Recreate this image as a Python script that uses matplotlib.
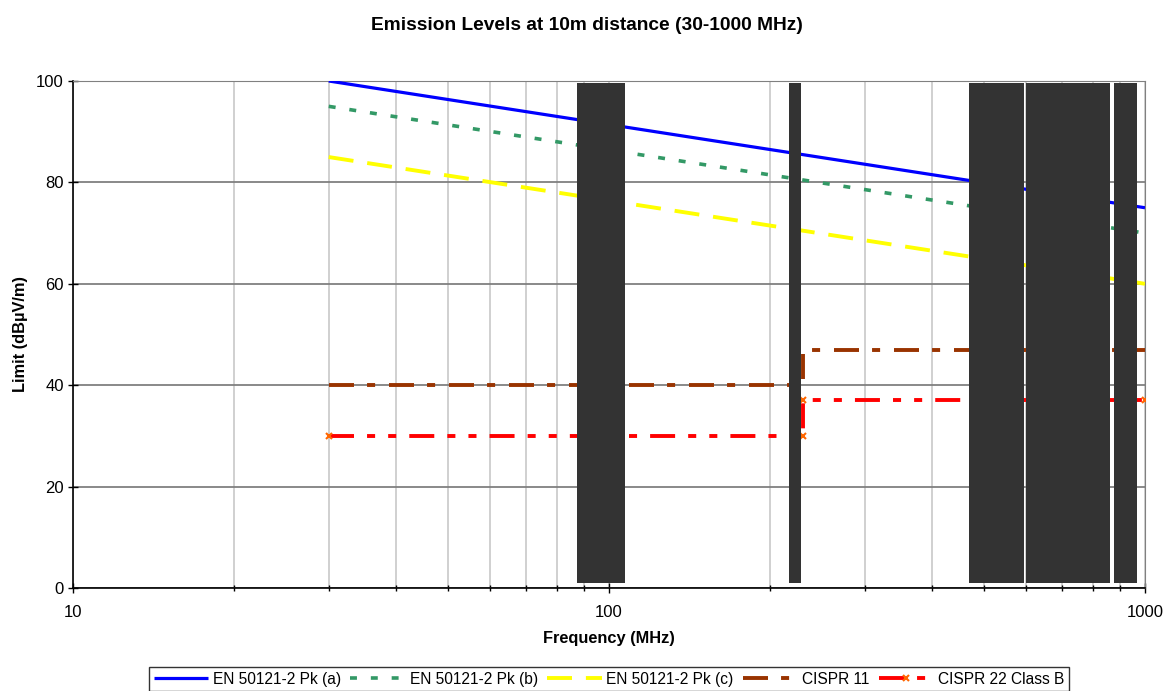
import matplotlib
matplotlib.use("Agg")
import matplotlib.pyplot as plt
import numpy as np

plt.rcParams['font.family'] = ['Liberation Sans', 'DejaVu Sans']
plt.rcParams['lines.scale_dashes'] = False

# ---- data ----
en_freq = [30, 1000]
en_a = [100, 75]
en_b = [95, 70]
en_c = [85, 60]

cispr11_freq = [30, 230, 230, 1000]
cispr11_lvl = [40, 40, 47, 47]

cispr22_freq = [30, 230, 230, 1000]
cispr22_lvl = [30, 30, 37, 37]

band_start = [87, 217, 470, 600, 875]
band_end = [107, 228, 595, 860, 965]
band_low = 1
band_high = 99.6

labels = ["EN 50121-2 Pk (a)", "EN 50121-2 Pk (b)", "EN 50121-2 Pk (c)",
          "CISPR 11", "CISPR 22 Class B"]

fig = plt.figure(figsize=(11.68, 6.91), dpi=100)
ax = fig.add_axes([73/1168, 1-588/691, (1145-73)/1168, (588-81)/691])

l1, = ax.plot(en_freq, en_a, color='#0000FF', lw=2.3, solid_capstyle='butt', label=labels[0], zorder=3)
l2, = ax.plot(en_freq, en_b, color='#339966', lw=2.6, dashes=(5, 10), label=labels[1], zorder=3)
l3, = ax.plot(en_freq, en_c, color='#FFFF00', lw=2.8, dashes=(18, 10), label=labels[2], zorder=3)
l4, = ax.plot(cispr11_freq, cispr11_lvl, color='#993300', lw=2.8,
              dashes=(18, 9.4, 5.8, 10), label=labels[3], zorder=3)
l5, = ax.plot(cispr22_freq, cispr22_lvl, color='#FF0000', lw=2.8,
              dashes=(18, 9.4, 5.8, 9.4, 5.8, 9.4), marker='x', ms=5, mew=1.5,
              mec='#FF6600', label=labels[4], zorder=3)

for s, e in zip(band_start, band_end):
    ax.fill_between([s, e], band_low, band_high, color='#333333', lw=0, zorder=4)

ax.set_xscale('log')
ax.set_xlim(10, 1000)
ax.set_ylim(0, 100)
ax.set_yticks([0, 20, 40, 60, 80, 100])
ax.xaxis.set_major_formatter(matplotlib.ticker.FuncFormatter(lambda v, p: f"{v:g}"))
ax.xaxis.set_minor_formatter(matplotlib.ticker.NullFormatter())

ax.grid(True, axis='y', which='major', color='#808080', lw=1.3, zorder=1)
ax.grid(True, axis='x', which='both', color='#C8C8C8', lw=1.2, zorder=1)
ax.set_axisbelow(True)

ax.tick_params(axis='both', which='major', direction='inout', length=7, width=1,
               labelsize=12, color='black')
ax.tick_params(axis='x', which='minor', direction='inout', length=4, width=1)
ax.tick_params(axis='y', pad=3)
ax.tick_params(axis='x', pad=9)

for side in ['left', 'bottom']:
    ax.spines[side].set_color('black')
    ax.spines[side].set_linewidth(1.2)
ax.spines['top'].set_color('#808080')
ax.spines['right'].set_color('#808080')

ax.set_title("Emission Levels at 10m distance (30-1000 MHz)", fontsize=13.8,
             fontweight='bold', pad=37, x=(587-73)/(1145-73))
ax.set_xlabel("Frequency (MHz)", fontsize=11.8, fontweight='bold', labelpad=8)
ax.set_ylabel("Limit (dBµV/m)", fontsize=11.8, fontweight='bold', labelpad=6)

leg = fig.legend(handles=[l1, l2, l3, l4, l5], labels=labels, loc='upper center',
                 bbox_to_anchor=(609/1168, 1-667/691), ncol=5, fontsize=11.2,
                 frameon=True, fancybox=False, edgecolor='black', handlelength=3.5,
                 columnspacing=0.6, handletextpad=0.3, borderpad=0.3, numpoints=1,
                 borderaxespad=0)
leg.get_frame().set_linewidth(1.0)

fig.savefig("out.png", dpi=100)
